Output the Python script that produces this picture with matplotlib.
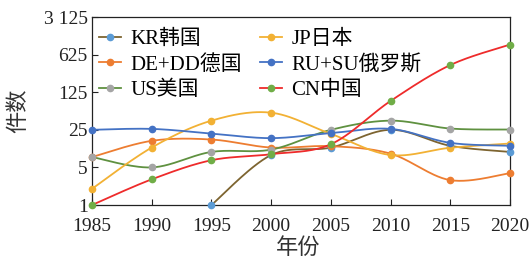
import numpy as np
import matplotlib
matplotlib.use("Agg")
import matplotlib.pyplot as plt
from matplotlib.lines import Line2D
from matplotlib.ticker import FixedLocator, FixedFormatter

plt.rcParams['font.family'] = ['Liberation Serif', 'Noto Sans CJK SC']

years = [1985, 1990, 1995, 2000, 2005, 2010, 2015, 2020]
kr = [None, None, 1, 8.5, 11.7, 25, 12.6, 9.7]
de = [7.8, 15.6, 16.5, 11.7, 12.4, 9, 2.9, 3.9]
us = [7.8, 5.0, 9.7, 10.7, 25, 37, 26.4, 25.3]
jp = [2.0, 11.7, 37, 52, 21, 8.5, 11.6, 13.9]
ru = [25, 26, 21.3, 17.5, 21.7, 26, 14.3, 12.6]
cn = [1, 3.0, 6.8, 8.8, 13.5, 86, 400, 960]

labels = ['KR韩国', 'DE+DD德国', 'US美国', 'JP日本', 'RU+SU俄罗斯', 'CN中国']
series = [kr, de, us, jp, ru, cn]
line_colors = ['#7d6430', '#ED7D31', '#5f9140', '#F2B134', '#4472C4', '#EE2B2B']
marker_colors = ['#5B9BD5', '#ED7D31', '#A5A5A5', '#F2B134', '#4472C4', '#70AD47']

yticks = [1, 5, 25, 125, 625, 3125]
ytick_labels = ['1', '5', '25', '125', '625', '3 125']


def smooth(xs, ys, n=30):
    # Catmull-Rom spline through the points in (x, log y) space
    xs = np.asarray(xs, float)
    ly = np.log(np.asarray(ys, float))
    P = np.column_stack([xs, ly])
    out = []
    for i in range(len(P) - 1):
        p0 = P[i - 1] if i > 0 else P[i]
        p1 = P[i]
        p2 = P[i + 1]
        p3 = P[i + 2] if i + 2 < len(P) else P[i + 1]
        c1 = p1 + (p2 - p0) / 6.0
        c2 = p2 - (p3 - p1) / 6.0
        t = np.linspace(0, 1, n)[:, None]
        seg = ((1 - t) ** 3) * p1 + 3 * ((1 - t) ** 2) * t * c1 + 3 * (1 - t) * t ** 2 * c2 + t ** 3 * p2
        out.append(seg if i == 0 else seg[1:])
    S = np.vstack(out)
    return S[:, 0], np.exp(S[:, 1])


fig = plt.figure(figsize=(5.3, 2.6), dpi=100)
ax = fig.add_axes([0.1736, 0.2115, 0.7887, 0.7231])
ax.set_yscale('log')

handles = []
for vals, lab, lc, mc in zip(series, labels, line_colors, marker_colors):
    xs = [x for x, v in zip(years, vals) if v is not None]
    vs = [v for v in vals if v is not None]
    sx, sy = smooth(xs, vs)
    ax.plot(sx, sy, color=lc, lw=1.3, clip_on=False, zorder=2)
    ax.plot(xs, vs, linestyle='none', marker='o', ms=4.5, mfc=mc, mec=mc,
            clip_on=False, zorder=3)
    handles.append(Line2D([], [], color=lc, lw=1.3, marker='o', ms=4.5,
                          mfc=mc, mec=mc))

ax.set_xlim(1985, 2020)
ax.set_ylim(1, 3125)
ax.set_xticks(years)
ax.set_xticklabels([str(y) for y in years])
ax.yaxis.set_major_locator(FixedLocator(yticks))
ax.yaxis.set_major_formatter(FixedFormatter(ytick_labels))
ax.yaxis.set_minor_locator(FixedLocator([]))
ax.tick_params(direction='in', length=4, width=0.8, labelsize=14, colors='#222222')
ax.tick_params(axis='x', pad=9)
ax.tick_params(axis='y', pad=3)
for s in ax.spines.values():
    s.set_color('#222222')
    s.set_linewidth(0.9)

fig.text(0.036, 0.573, '件数', rotation=90, ha='center', va='center', fontsize=16, color='#333333')
fig.text(0.563, 0.044, '年份', ha='center', va='center', fontsize=16, color='#333333')

ax.legend(handles, labels, ncol=2, loc='upper left', bbox_to_anchor=(-0.017, 1.012),
          frameon=False, fontsize=15, handlelength=1.05, handletextpad=0.45,
          columnspacing=0.85, labelspacing=0.28, borderaxespad=0.3)

fig.savefig('out.png', dpi=100)
